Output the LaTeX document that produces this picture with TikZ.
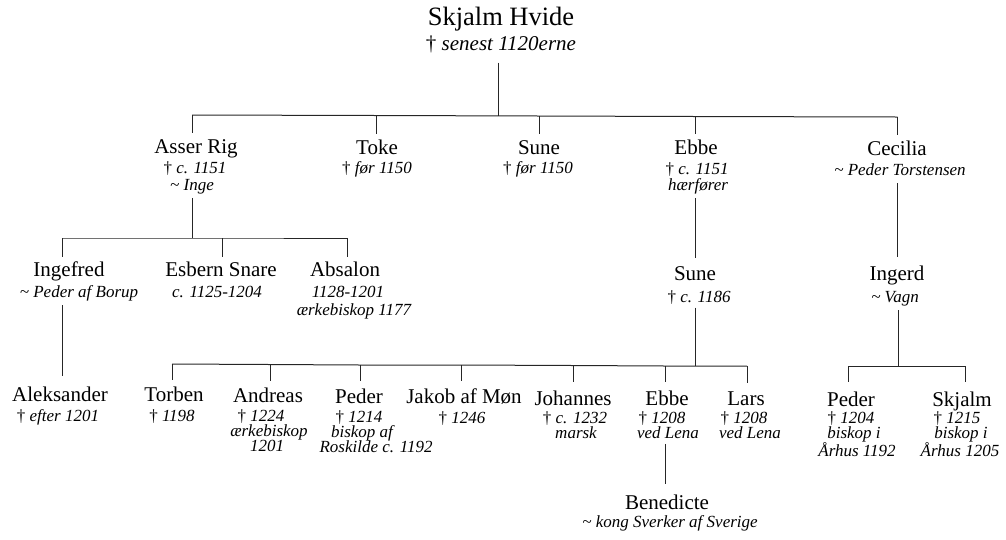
\documentclass[tikz,border=0pt]{standalone}
\usepackage{fontspec}
\setmainfont{Liberation Serif}
\newcommand{\mydag}{{\upshape †}}
\newcommand{\mytil}{\textasciitilde}
\begin{document}
\begin{tikzpicture}[x=1pt,y=-1pt,
  nm/.style={font=\fontsize{21}{22}\selectfont, inner sep=0pt, anchor=base},
  ttl/.style={font=\fontsize{26.5}{28}\selectfont, inner sep=0pt, anchor=base},
  tsb/.style={font=\fontsize{21}{22}\selectfont\itshape, inner sep=0pt, anchor=base},
  sb/.style={font=\fontsize{17}{17}\selectfont\itshape, inner sep=0pt, anchor=base},
  ln/.style={line width=1pt, draw=black!85},
  dn/.style={ln, shorten >=#1},
  dn/.default=6pt
]
\useasboundingbox (0,0) rectangle (1006,539);

% ---- title
\node[ttl] (skjalm) at (501,25) {Skjalm Hvide};
\node[tsb] (skjalm-s) at (501,50) {\mydag\ senest 1120erne};

% ---- row 1
\node[nm] (asser) at (196,153) {Asser Rig};
\node[sb] (asser-s1) at (195,173) {\mydag\ c. 1151};
\node[sb] (asser-s2) at (192,190) {\mytil\ Inge};
\node[nm] (toke) at (377,154) {Toke};
\node[sb] (toke-s1) at (377,173) {\mydag\ før 1150};
\node[nm] (sune) at (539,154) {Sune};
\node[sb] (sune-s1) at (538,173.5) {\mydag\ før 1150};
\node[nm] (ebbe) at (696,154.5) {Ebbe};
\node[sb] (ebbe-s1) at (697,174) {\mydag\ c. 1151};
\node[sb] (ebbe-s2) at (698,190) {hærfører};
\node[nm] (cecilia) at (897,155) {Cecilia};
\node[sb] (cecilia-s1) at (900,175) {\mytil\ Peder Torstensen};

% ---- row 2
\node[nm] (ingefred) at (69,276) {Ingefred};
\node[sb] (ingefred-s1) at (79,297) {\mytil\ Peder af Borup};
\node[nm] (esbern) at (221,276) {Esbern Snare};
\node[sb] (esbern-s1) at (217,297) {c. 1125-1204};
\node[nm] (absalon) at (345,276.5) {Absalon};
\node[sb] (absalon-s1) at (348,297.5) {1128-1201};
\node[sb] (absalon-s2) at (354,315) {ærkebiskop 1177};
\node[nm] (sune2) at (695,280) {Sune};
\node[sb] (sune2-s1) at (699,302) {\mydag\ c. 1186};
\node[nm] (ingerd) at (897,280) {Ingerd};
\node[sb] (ingerd-s1) at (895,302) {\mytil\ Vagn};

% ---- row 3
\node[nm] (aleks) at (60,401) {Aleksander};
\node[sb] (aleks-s1) at (58,421) {\mydag\ efter 1201};
\node[nm] (torben) at (174,401.5) {Torben};
\node[sb] (torben-s1) at (172,421) {\mydag\ 1198};
\node[nm] (andreas) at (268,402) {Andreas};
\node[sb] (andreas-s1) at (261,421.5) {\mydag\ 1224};
\node[sb] (andreas-s2) at (269,436.5) {ærkebiskop};
\node[sb] (andreas-s3) at (267,451.5) {1201};
\node[nm] (peder) at (359,403) {Peder};
\node[sb] (peder-s1) at (359,422) {\mydag\ 1214};
\node[sb] (peder-s2) at (362,437) {biskop af};
\node[sb] (peder-s3) at (376,452) {Roskilde c. 1192};
\node[nm] (jakob) at (464,403) {Jakob af Møn};
\node[sb] (jakob-s1) at (462,423) {\mydag\ 1246};
\node[nm] (johannes) at (573,405) {Johannes};
\node[sb] (johannes-s1) at (575,423.5) {\mydag\ c. 1232};
\node[sb] (johannes-s2) at (576,438.5) {marsk};
\node[nm] (ebbe3) at (667,405.5) {Ebbe};
\node[sb] (ebbe3-s1) at (662,423.5) {\mydag\ 1208};
\node[sb] (ebbe3-s2) at (668,438.5) {ved Lena};
\node[nm] (lars) at (746,405.5) {Lars};
\node[sb] (lars-s1) at (744,423.5) {\mydag\ 1208};
\node[sb] (lars-s2) at (750,438.5) {ved Lena};
\node[nm] (pederR) at (851,406) {Peder};
\node[sb] (pederR-s1) at (851,423.5) {\mydag\ 1204};
\node[sb] (pederR-s2) at (854,438.5) {biskop i};
\node[sb] (pederR-s3) at (857,456) {Århus 1192};
\node[nm] (skjalmR) at (962,406) {Skjalm};
\node[sb] (skjalmR-s1) at (957,423.5) {\mydag\ 1215};
\node[sb] (skjalmR-s2) at (961,438.5) {biskop i};
\node[sb] (skjalmR-s3) at (960,456) {Århus 1205};

% ---- row 4
\node[nm] (benedicte) at (667,509) {Benedicte};
\node[sb] (benedicte-s1) at (670,527) {\mytil\ kong Sverker af Sverige};

% ---- junction coordinates
\coordinate (j0) at (498,116);
\coordinate (b-asser) at (192,115);
\coordinate (b-toke) at (376,115.5);
\coordinate (b-sune) at (539,116);
\coordinate (b-ebbe) at (695,116.5);
\coordinate (b-cecilia) at (897.5,117);

\coordinate (j-asser) at (192,238);
\coordinate (b-ingefred) at (62,238);
\coordinate (b-esbern) at (222,238);
\coordinate (b-absalon) at (347,238);

\coordinate (j-sune2) at (695,366);
\coordinate (b-torben) at (172,364);
\coordinate (b-andreas) at (270,364.5);
\coordinate (b-peder) at (360,365);
\coordinate (b-jakob) at (461,365);
\coordinate (b-johannes) at (573,365.5);
\coordinate (b-ebbe3) at (665,366);
\coordinate (b-lars) at (747,366);

\coordinate (j-ingerd) at (898,366);
\coordinate (b-pederR) at (848,366);
\coordinate (b-skjalmR) at (965,366);

% ---- connectors: Skjalm Hvide's children
\draw[ln, shorten <=10pt] (j0 |- skjalm-s.south) -- (j0);
\draw[ln] (b-asser) -- (b-toke) -- (b-sune) -- (b-ebbe) -- (b-cecilia);
\foreach \c in {asser,toke,sune,ebbe,cecilia}
  \draw[dn=5.5pt] (b-\c) -- (b-\c |- \c.north);

% Asser Rig's children
\draw[ln, shorten <=4pt] (j-asser |- asser-s2.south) -- (j-asser);
\draw[ln] (b-ingefred) -- (b-esbern) -- (b-absalon);
\foreach \c in {ingefred,esbern,absalon}
  \draw[dn=4.5pt] (b-\c) -- (b-\c |- \c.north);

% Ingefred -> Aleksander
\draw[ln, shorten <=4.5pt, shorten >=10pt] (b-ingefred |- ingefred-s1.south) -- (b-ingefred |- aleks.north);

% Ebbe -> Sune
\draw[ln, shorten <=4.5pt, shorten >=8pt] (b-ebbe |- ebbe-s2.south) -- (b-ebbe |- sune2.north);

% Sune's children
\draw[ln, shorten <=3.5pt] (j-sune2 |- sune2-s1.south) -- (j-sune2);
\draw[ln] (b-torben) -- (b-andreas) -- (b-peder) -- (b-jakob) -- (b-johannes) -- (b-ebbe3) -- (b-lars);
\foreach \c/\g in {torben/6.5pt,andreas/6.5pt,peder/7pt,jakob/7pt,johannes/8pt,ebbe3/8.5pt,lars/8.5pt}
  \draw[dn=\g] (b-\c) -- (b-\c |- \c.north);

% Ebbe -> Benedicte
\draw[ln, shorten <=5pt, shorten >=10.5pt] (b-ebbe3 |- ebbe3-s2.south) -- (b-ebbe3 |- benedicte.north);

% Cecilia -> Ingerd
\draw[ln, shorten <=8pt, shorten >=8pt] (b-cecilia |- cecilia-s1.south) -- (b-cecilia |- ingerd.north);

% Ingerd's children
\draw[ln, shorten <=4.5pt] (j-ingerd |- ingerd-s1.south) -- (j-ingerd);
\draw[ln] (b-pederR) -- (b-skjalmR);
\foreach \c in {pederR,skjalmR}
  \draw[dn=9pt] (b-\c) -- (b-\c |- \c.north);
\end{tikzpicture}
\end{document}
